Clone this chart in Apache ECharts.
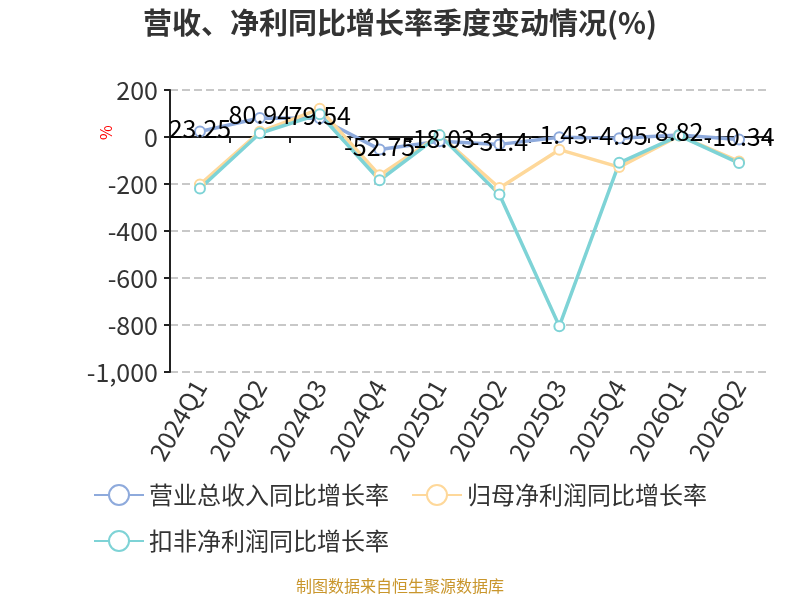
<!DOCTYPE html>
<html>
<head>
<meta charset="utf-8">
<script src="https://cdn.jsdelivr.net/npm/echarts@6/dist/echarts.min.js"></script>
<style>
  html, body { margin: 0; padding: 0; background: #fff; }
  #main { width: 800px; height: 600px; }
</style>
</head>
<body>
<div id="main"></div>
<script>
// quarters on the x axis
const quarters = ['2024Q1', '2024Q2', '2024Q3', '2024Q4', '2025Q1', '2025Q2', '2025Q3', '2025Q4', '2026Q1', '2026Q2']
// 营业总收入同比增长率
const revenueGrowth = [23.25, 80.94, 79.54, -52.75, -18.03, -31.4, -1.43, -4.95, 8.82, -10.34]
// 归母净利润同比增长率
const netProfitGrowth = [-202, 22, 120, -163, 8, -217, -54, -128, 6, -104]
// 扣非净利润同比增长率
const deductedProfitGrowth = [-219, 16, 97, -184, 8, -245, -805, -110, 6, -111]

const seriesNames = ['营业总收入同比增长率', '归母净利润同比增长率', '扣非净利润同比增长率']
const colors = ['#8eaadc', '#fed89a', '#7ed3d6']

function lineSeries(name, data, color, showLabel){
    return {
        name: name,
        type: 'line',
        data: data,
        xAxisIndex: 0,
        symbol: 'emptyCircle',
        symbolSize: 10,
        lineStyle: { width: 3.5, color: color },
        itemStyle: { color: color, borderWidth: 2 },
        label: {
            show: showLabel,
            position: 'inside',
            offset: [0, -3],
            color: '#000',
            fontSize: 25
        }
    }
}

const myChart = echarts.init(document.getElementById('main'))
const option = {
    animation: false,
    color: colors,
    textStyle: { fontFamily: 'Noto Sans CJK SC' },
    title: {
        text: '营收、净利同比增长率季度变动情况(%)',
        left: 'center',
        top: 3,
        textStyle: { fontSize: 29, fontWeight: 'bold', color: '#333' }
    },
    legend: {
        left: 88,
        top: 478,
        width: 640,
        itemWidth: 50,
        itemHeight: 25,
        itemGap: 22,
        textStyle: { fontSize: 24, color: '#333' },
        data: seriesNames
    },
    grid: {
        left: 170,
        right: 31,
        top: 90,
        bottom: 228
    },
    graphic: [
        {
            type: 'text',
            left: 'center',
            top: 578,
            style: { text: '制图数据来自恒生聚源数据库', fill: '#c9962c', fontSize: 16, fontFamily: 'Noto Sans CJK SC' }
        },
        {
            type: 'text',
            x: 98,
            y: 140,
            rotation: Math.PI / 2,
            style: { text: '%', fill: '#ff0000', fontSize: 16, fontFamily: 'Noto Sans CJK SC' }
        }
    ],
    xAxis: [
        {
            type: 'category',
            data: quarters,
            axisLine: { onZero: true, lineStyle: { color: '#222', width: 2 } },
            axisTick: { show: true, length: 6, lineStyle: { color: '#222', width: 2 } },
            axisLabel: { show: false }
        },
        {
            type: 'category',
            data: quarters,
            position: 'bottom',
            axisLine: { show: false, onZero: false },
            axisTick: { show: false },
            axisLabel: { rotate: 60, fontSize: 25, color: '#333', margin: 10 }
        }
    ],
    yAxis: {
        type: 'value',
        min: -1000,
        max: 200,
        interval: 200,
        axisLine: { show: true, lineStyle: { color: '#222', width: 2 } },
        axisTick: { show: true, length: 6, lineStyle: { color: '#222', width: 2 } },
        axisLabel: { fontSize: 25, color: '#333', margin: 12 },
        splitLine: { lineStyle: { type: 'dashed', color: '#c8c8c8', width: 2 } }
    },
    series: [
        lineSeries(seriesNames[0], revenueGrowth, colors[0], true),
        lineSeries(seriesNames[1], netProfitGrowth, colors[1], false),
        lineSeries(seriesNames[2], deductedProfitGrowth, colors[2], false)
    ]
}
myChart.setOption(option)
</script>
</body>
</html>
